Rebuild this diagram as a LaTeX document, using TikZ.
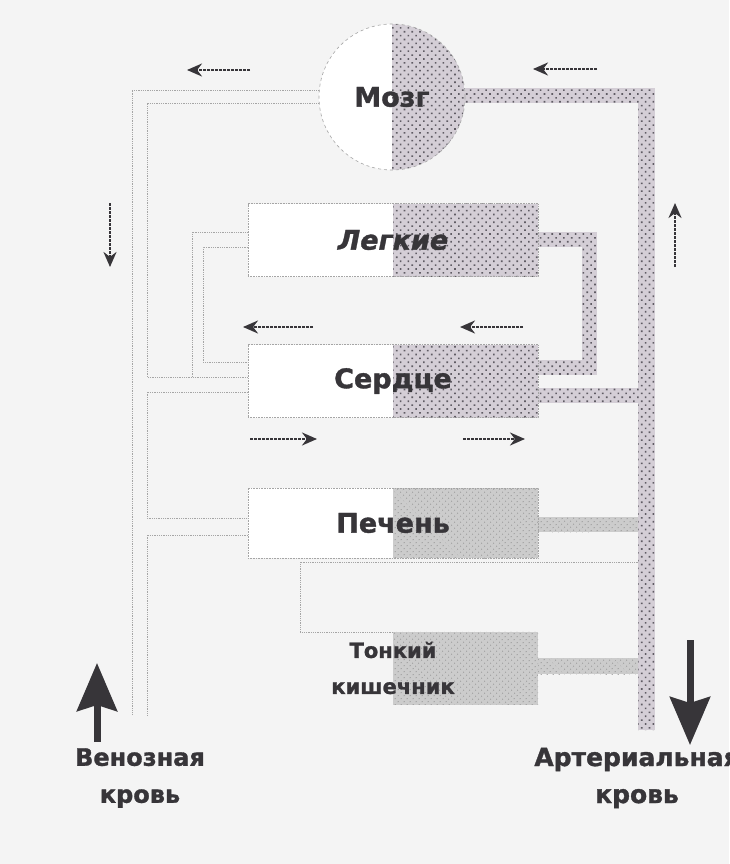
\documentclass[tikz,border=0pt]{standalone}
\usepackage{fontspec}
\setmainfont{DejaVu Sans}
\newfontfamily\heavyfont[FakeBold=1.3]{DejaVu Sans Bold}
\newfontfamily\heavyslant[FakeBold=1.3]{DejaVu Sans Bold Oblique}
\usetikzlibrary{arrows.meta,patterns.meta,positioning}
\definecolor{paper}{RGB}{244,244,244}
\definecolor{ink}{RGB}{55,53,57}
\definecolor{vessel}{RGB}{165,165,165}
\definecolor{shadeA}{RGB}{212,206,214}
\definecolor{shadeB}{RGB}{204,204,204}
\definecolor{dotink}{RGB}{95,91,99}

\begin{document}
\begin{tikzpicture}[x=1pt, y=-1pt,
  dotfill/.style={preaction={fill=shadeA}, pattern={Dots[distance=5.5pt,radius=1.15pt,angle=45]}, pattern color=dotink},
  palefill/.style={preaction={fill=shadeB}, pattern={Dots[distance=4pt,radius=0.7pt,angle=45]}, pattern color=gray!75},
  organ/.style={draw=vessel, densely dotted, line width=0.6pt, fill=white, minimum width=290pt, minimum height=73pt, inner sep=0pt,
    text=ink, font=\fontsize{27}{30}\selectfont\heavyfont,
    path picture={\path[dotfill] (path picture bounding box.north) rectangle (path picture bounding box.south east);}},
  paleorgan/.style={organ, path picture={\path[palefill] (path picture bounding box.north) rectangle (path picture bounding box.south east);}},
  vein/.style={draw=vessel, densely dotted, line width=0.8pt},
  flow/.style={-{Stealth[length=15pt,width=13pt]}, line width=2.2pt, ink, dash pattern=on 3pt off 1pt},
  bigflow/.style={-{Stealth[length=48pt,width=40pt,inset=6pt]}, line width=7pt, ink},
  caption/.style={text=ink, font=\fontsize{24}{37}\selectfont\heavyfont, align=center, inner sep=0pt}
]
\useasboundingbox (0,0) rectangle (729,864);
\fill[paper] (0,0) rectangle (729,864);

% arteries
\path[dotfill] (440,88) rectangle (655,103);
\path[dotfill] (638,88) rectangle (655,730);
\path[dotfill] (530,232) rectangle (597,247);
\path[dotfill] (582,232) rectangle (597,375);
\path[dotfill] (530,360) rectangle (597,375);
\path[dotfill] (530,388) rectangle (638,403);
\path[palefill] (530,517) rectangle (638,532);
\path[palefill] (530,658) rectangle (638,674);

% veins
\draw[vein] (322,90) -- (132,90) -- (132,715);
\draw[vein] (322,103) -- (147,103) -- (147,377) -- (248,377);
\draw[vein] (192,377) -- (192,232) -- (248,232);
\draw[vein] (248,247) -- (203,247) -- (203,362) -- (248,362);
\draw[vein] (248,392) -- (147,392) -- (147,518) -- (248,518);
\draw[vein] (248,535) -- (147,535) -- (147,715);
\draw[vein] (393,632) -- (300,632) -- (300,562) -- (638,562);

% organs
\node[organ, circle, minimum size=146pt, dashed] (brain) at (392,97) {Мозг};
\node[organ, font=\fontsize{27}{30}\selectfont\heavyslant] (lungs) at (393,240) {Легкие};
\node[organ] (heart) at (393,381) {Сердце};
\node[paleorgan, minimum height=70pt] (liver) at (393,523) {Печень};
\node[paleorgan, draw=none, fill=none, align=center, font=\fontsize{21}{36}\selectfont\heavyfont] (gut) at (393,668) {Тонкий\\кишечник};

% direction of flow
\draw[flow] (250,70) -- (187,70);
\draw[flow] (597,69) -- (533,69);
\draw[flow] (110,203) -- (110,267);
\draw[flow] (675,267) -- (675,203);
\draw[flow] (313,327) -- (243,327);
\draw[flow] (523,327) -- (460,327);
\draw[flow] (250,439) -- (317,439);
\draw[flow] (463,439) -- (525,439);
\draw[bigflow] (97,742) -- (97,663);
\draw[bigflow] (690,640) -- (690,745);

\node[caption] (venous) at (140,778) {Венозная\\кровь};
\node[caption, font=\fontsize{25}{37}\selectfont\heavyfont] (arterial) at (637,778) {Артериальная\\кровь};
\end{tikzpicture}
\end{document}
